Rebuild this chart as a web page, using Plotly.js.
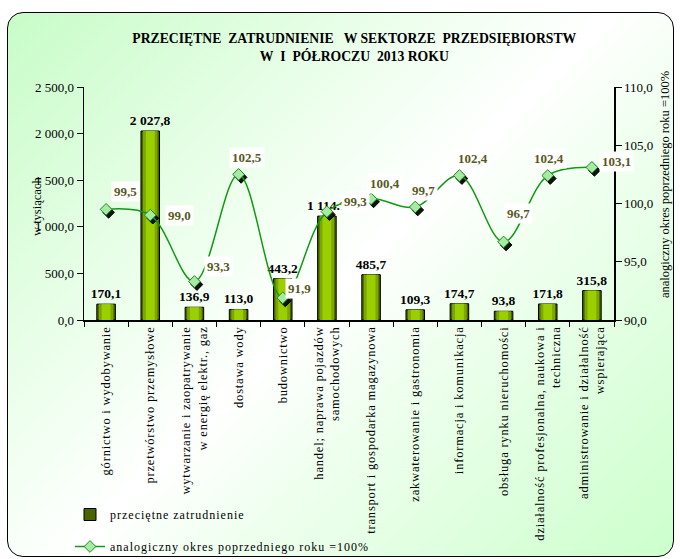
<!DOCTYPE html>
<html>
<head>
<meta charset="utf-8">
<script src="https://cdn.plot.ly/plotly-3.0.1.min.js"></script>
<style>
  html, body { margin: 0; padding: 0; background: #ffffff; }
  #frame {
    position: absolute; left: 7px; top: 12px; width: 665px; height: 543px;
    border: 1px solid #000; border-radius: 16px;
    background: linear-gradient(135deg, #c8fcc8 0%, #f4fff4 40%, #ffffff 50%, #f0fff0 62%, #ccffcc 100%);
  }
  #chart { position: absolute; left: 0; top: 0; width: 680px; height: 559px; }
  .xtick text { letter-spacing: 0.8px; }
  .legendtext { letter-spacing: 1px; }
</style>
</head>
<body>
<div id="frame"></div>
<div id="chart"></div>
<script>
const categories = [
  "górnictwo i wydobywanie",
  "przetwórstwo przemysłowe",
  "wytwarzanie i zaopatrywanie<br>w energię elektr., gaz",
  "dostawa wody",
  "budownictwo",
  "handel; naprawa pojazdów<br>samochodowych",
  "transport i gospodarka magazynowa",
  "zakwaterowanie i gastronomia",
  "informacja i komunikacja",
  "obsługa rynku nieruchomości",
  "działalność profesjonalna, naukowa i<br>techniczna",
  "administrowanie i działalność<br>wspierająca"
];
const employment = [170.1, 2027.8, 136.9, 113.0, 443.2, 1114.7, 485.7, 109.3, 174.7, 93.8, 171.8, 315.8];
const employmentLabels = ["170,1", "2 027,8", "136,9", "113,0", "443,2", "1 114.7", "485,7", "109,3", "174,7", "93,8", "171,8", "315,8"];
const index = [99.5, 99.0, 93.3, 102.5, 91.9, 99.3, 100.4, 99.7, 102.4, 96.7, 102.4, 103.1];
const indexLabels = ["99,5", "99,0", "93,3", "102,5", "91,9", "99,3", "100,4", "99,7", "102,4", "96,7", "102,4", "103,1"];
const leftTicks = [0, 500, 1000, 1500, 2000, 2500];
const leftTickText = ["0,0", "500,0", "1 000,0", "1 500,0", "2 000,0", "2 500,0"];
const rightTicks = [90, 95, 100, 105, 110];
const rightTickText = ["90,0", "95,0", "100,0", "105,0", "110,0"];

// label offsets (pixels) relative to each line point
const labelShift = [[19,18],[29,0],[24,15],[8,17],[17,9],[29,10],[14,15],[8,16],[14,17],[15,28],[1,17],[25,6]];

const serif = "Liberation Serif, Times New Roman, serif";

// plot area size in pixels and the shadow offset of the line markers
const PW = 530, PH = 233, SX = 2.5, SY = 3;
const nCat = categories.length;
const xr = [-0.5, nCat - 0.5];
const yr2 = [90, 110];

const traces = [
  {
    type: "bar", x: categories, y: employment, name: "przeciętne zatrudnienie",
    width: 0.42, marker: {color: "#4a6400", line: {color: "#000", width: 1}},
    text: employmentLabels, textposition: "outside", cliponaxis: false, constraintext: "none",
    textfont: {family: serif, size: 13.5, color: "#000", weight: "bold"},
    hoverinfo: "skip", legendgroup: "a"
  },
  {
    type: "bar", x: categories, y: employment, width: 0.33, showlegend: false,
    marker: {color: "#7aa800", line: {width: 0}}, hoverinfo: "skip"
  },
  {
    type: "bar", x: categories, y: employment, width: 0.2, showlegend: false,
    marker: {color: "#9ccf00", line: {width: 0}}, hoverinfo: "skip"
  },
  {
    // marker shadows, on a copy of the scales shifted a few pixels down-right
    type: "scatter", mode: "markers", x: categories, y: index, xaxis: "x3", yaxis: "y3",
    showlegend: false, hoverinfo: "skip", cliponaxis: false,
    marker: {symbol: "diamond", size: 9, color: "#111", line: {color: "#000", width: 1}}
  },
  {
    type: "scatter", mode: "lines+markers", x: categories, y: index, xaxis: "x4", yaxis: "y4",
    name: "analogiczny okres poprzedniego roku =100%",
    line: {color: "#119911", width: 1.5, shape: "spline", smoothing: 1},
    marker: {symbol: "diamond", size: 9, color: "#a6eaa6", line: {color: "#1c8c1c", width: 1}},
    hoverinfo: "skip", legendgroup: "b", cliponaxis: false
  }
];

const annotations = [];
for (let i = 0; i < nCat; i++) {
  annotations.push({
    x: categories[i], y: index[i], xref: "x", yref: "y2",
    text: "<b>" + indexLabels[i] + "</b>", showarrow: false,
    xshift: labelShift[i][0], yshift: labelShift[i][1],
    bgcolor: "#ffffff", borderpad: 2,
    font: {family: serif, size: 13, color: "#58581e"}
  });
}
annotations.push({
  xref: "paper", yref: "paper", x: (37 - 84) / PW, y: (320 - 207) / PH,
  xanchor: "center", yanchor: "middle",
  text: "w tysiącach", textangle: -90, showarrow: false,
  font: {family: serif, size: 12.5, color: "#000"}
});
annotations.push({
  xref: "paper", yref: "paper", x: (665 - 84) / PW, y: (320 - 185) / PH,
  xanchor: "center", yanchor: "middle",
  text: "analogiczny okres poprzedniego roku =100%", textangle: -90, showarrow: false,
  font: {family: serif, size: 12.5, color: "#000"}
});

const hidden = {visible: false, showgrid: false, zeroline: false, fixedrange: true};

const layout = {
  width: 680, height: 559,
  margin: {l: 84, r: 66, t: 87, b: 239, autoexpand: false},
  paper_bgcolor: "rgba(0,0,0,0)", plot_bgcolor: "rgba(0,0,0,0)",
  barmode: "overlay",
  title: {
    text: "<b>PRZECIĘTNE&nbsp; ZATRUDNIENIE&nbsp;&nbsp; W SEKTORZE&nbsp; PRZEDSIĘBIORSTW<br>W&nbsp; I&nbsp; PÓŁROCZU&nbsp; 2013 ROKU</b>",
    xref: "paper", x: 0.51, xanchor: "center",
    yref: "container", y: 1 - 43 / 559, yanchor: "middle",
    font: {family: serif, size: 13.7, color: "#000"}
  },
  xaxis: {
    type: "category", range: xr, tickangle: -90, tickson: "boundaries", ticks: "outside", ticklen: 5,
    tickcolor: "#000", showline: true, linecolor: "#000", linewidth: 1.5, showgrid: false,
    tickfont: {family: serif, size: 12.5, color: "#000"}, automargin: false
  },
  yaxis: {
    range: [0, 2500], tickvals: leftTicks, ticktext: leftTickText,
    ticks: "outside", ticklen: 6, tickcolor: "#000", showline: true, linecolor: "#000", linewidth: 1.5,
    showgrid: false, zeroline: false,
    tickfont: {family: serif, size: 13, color: "#000"}, automargin: false
  },
  yaxis2: {
    overlaying: "y", side: "right", range: yr2, tickvals: rightTicks, ticktext: rightTickText,
    ticks: "outside", ticklen: 6, tickcolor: "#000", showline: true, linecolor: "#000", linewidth: 1.5,
    showgrid: false, zeroline: false,
    tickfont: {family: serif, size: 13, color: "#000"}, automargin: false
  },
  xaxis3: Object.assign({}, hidden, {
    type: "category", anchor: "y3", domain: [SX / PW, 1],
    range: [xr[0], xr[0] + (xr[1] - xr[0]) * (PW - SX) / PW]
  }),
  yaxis3: Object.assign({}, hidden, {
    anchor: "x3", domain: [0, (PH - SY) / PH],
    range: [yr2[0] + SY * (yr2[1] - yr2[0]) / PH, yr2[1]]
  }),
  xaxis4: Object.assign({}, hidden, {type: "category", anchor: "y4", domain: [0, 1], range: xr}),
  yaxis4: Object.assign({}, hidden, {anchor: "x4", domain: [0, 1], range: yr2}),
  showlegend: true,
  legend: {
    xref: "paper", yref: "paper", x: (70 - 84) / PW, y: -(500 - 320) / PH,
    xanchor: "left", yanchor: "top", bgcolor: "rgba(0,0,0,0)",
    font: {family: serif, size: 12, color: "#000"}, tracegroupgap: 13, itemwidth: 30
  },
  annotations: annotations
};

Plotly.newPlot("chart", traces, layout, {displayModeBar: false, staticPlot: true});
</script>
</body>
</html>
